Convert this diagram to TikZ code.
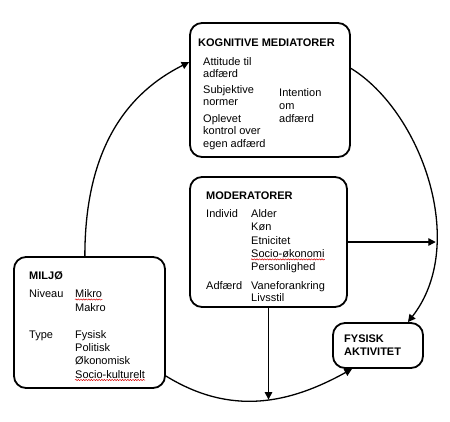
\documentclass[tikz,border=0pt]{standalone}
\usepackage{fontspec}
\setmainfont{Liberation Sans}
\usetikzlibrary{arrows.meta,decorations.pathmorphing}
\tikzset{
  boks/.style={draw,line width=1.8pt,rounded corners=12pt,inner sep=0pt},
  txt/.style={anchor=base west,inner sep=0pt,font=\fontsize{11}{13}\selectfont},
  titel/.style={txt,font=\fontsize{11}{13}\selectfont\bfseries},
  pil/.style={line width=1.3pt,-{Triangle[length=7.5pt,width=7.5pt]}},
  stave/.style={draw=red!85!black,line width=0.5pt,decorate,decoration={snake,amplitude=0.6pt,segment length=2.6pt}}
}
\begin{document}
\begin{tikzpicture}[x=1pt,y=-1pt]
    \useasboundingbox (0,0) rectangle (450,421);
    % boksene
    \node[boks,minimum width=160pt,minimum height=134pt] (kog) at (270,90) {};
    \node[boks,minimum width=157pt,minimum height=130pt] (mod) at (268.5,242) {};
    \node[boks,minimum width=151pt,minimum height=131pt] (mil) at (89.5,322.5) {};
    \node[boks,minimum width=90pt,minimum height=45pt] (fys) at (378,345.5) {};
    % kognitive mediatorer
    \node[titel] (kogt) at (198,46) {KOGNITIVE MEDIATORER};
    \foreach \w/\y [count=\i] in {Attitude til/65,adfærd/77,Subjektive/93,normer/105.5,Oplevet/122,kontrol over/134.5,egen adfærd/147}
        \node[txt] (kogv\i) at (203,\y) {\w};
    \foreach \w/\y [count=\i] in {Intention/96,om/109,adfærd/122}
        \node[txt] (kogi\i) at (279,\y) {\w};
    % moderatorer
    \node[titel] (modt) at (206,199) {MODERATORER};
    \node[txt] (modi) at (206,217.5) {Individ};
    \foreach \w/\y [count=\i] in {Alder/217.5,Køn/230.8,Etnicitet/244.1,Socio-økonomi/257.4,Personlighed/270.7}
        \node[txt] (modv\i) at (251,\y) {\w};
    \node[txt] (moda) at (206,289.5) {Adfærd};
    \foreach \w/\y [count=\i] in {Vaneforankring/289.5,Livsstil/301.5}
        \node[txt] (moda\i) at (251,\y) {\w};
    % miljø
    \node[titel] (milt) at (29,279) {MILJØ};
    \node[txt] (miln) at (29,297.5) {Niveau};
    \foreach \w/\y [count=\i] in {Mikro/297.5,Makro/311}
        \node[txt] (milv\i) at (75,\y) {\w};
    \node[txt] (milty) at (29,338.5) {Type};
    \foreach \w/\y [count=\i] in {Fysisk/338.5,Politisk/351.7,Økonomisk/364.9,Socio-kulturelt/378}
        \node[txt] (milw\i) at (75,\y) {\w};
    % fysisk aktivitet
    \node[titel] (fyst1) at (344,342.3) {FYSISK};
    \node[titel] (fyst2) at (344,355.7) {AKTIVITET};
    % stavekontrol
    \draw[stave] ([yshift=-2pt]milv1.base west) -- ([yshift=-2pt]milv1.base east);
    \draw[stave] ([yshift=-2pt]milw4.base west) -- ([yshift=-2pt]milw4.base east);
    \draw[stave] ([yshift=-2pt]modv4.base west) -- ([yshift=-2pt]modv4.base east);
    % pile
    \draw[pil] (mil.94) .. controls +(0,-110) and +(-60,30) .. (kog.161);
    \draw[pil] (kog.15) .. controls +(70,43) and +(61,-78) .. (fys.38) coordinate[pos=0.7] (rc);
    \draw[pil] (mil.-35) .. controls +(65,40) and +(-63,35) .. (fys.222) coordinate[pos=0.55] (bc);
    \draw[pil] (mod.east) -- (mod.east -| rc);
    \draw[pil] (mod.south) -- (mod.south |- bc);
\end{tikzpicture}
\end{document}
